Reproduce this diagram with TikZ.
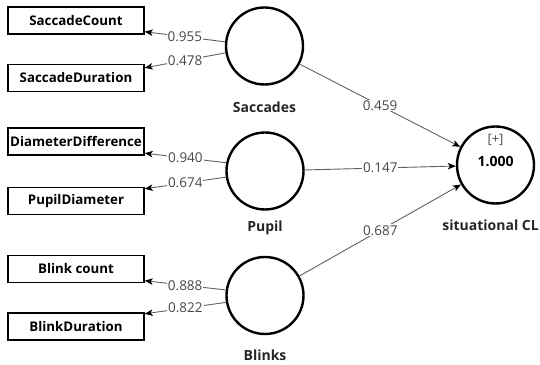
\documentclass[tikz,border=0pt]{standalone}
\usepackage{fontspec}
\setmainfont{Open Sans}
\usetikzlibrary{arrows.meta,calc}
\tikzset{
  ind/.style={draw=black, line width=1.4pt, minimum width=136pt, minimum height=27pt, inner sep=0pt, font=\fontsize{13.3}{15}\selectfont\bfseries},
  lv/.style={circle, draw=black, line width=2.4pt, minimum size=77pt, inner sep=0pt},
  lvlabel/.style={font=\fontsize{14}{16}\selectfont\bfseries, text=black!85},
  conn/.style={draw=black!62, line width=0.9pt, -{Stealth[length=8pt,width=6.5pt,inset=2pt,color=black]}},
  wt/.style={fill=white, inner sep=1pt, text=black!72, font=\fontsize{13.5}{15}\selectfont, pos=0.5}
}
\begin{document}
\begin{tikzpicture}[x=1pt,y=1pt]
\useasboundingbox (0,0) rectangle (540,364);
% indicator boxes
\node[ind] (sc) at (76,343.5) {SaccadeCount};
\node[ind] (sd) at (76,286) {SaccadeDuration};
\node[ind] (dd) at (76,222.5) {DiameterDifference};
\node[ind] (pd) at (76,163) {PupilDiameter};
\node[ind] (bc) at (76,95) {Blink count};
\node[ind] (bd) at (76,37.5) {BlinkDuration};
% latent variables
\node[lv] (sac) at (264.5,318) {};
\node[lv] (pup) at (265,193) {};
\node[lv] (bli) at (265,68.5) {};
\node[lv] (cl) at (495.5,199) {};
\node[lvlabel] (sacl) at (264.5,257) {Saccades};
\node[lvlabel] (pupl) at (265,136) {Pupil};
\node[lvlabel] (blil) at (265,9) {Blinks};
\node[lvlabel, anchor=east, inner xsep=0pt] (cll) at (539,139) {situational CL};
\node[text=black!70, font=\fontsize{13}{15}\selectfont] (clplus) at (495.5,224) {[+]};
\node[font=\fontsize{14}{16}\selectfont\bfseries] (clval) at (495.5,202) {1.000};
% outer loadings
\draw[conn] (sac.174) -- node[wt] {0.955} ($(sc.south east)+(0,3)$);
\draw[conn] (sac.190) -- node[wt] {0.478} ($(sd.north east)+(0,-4)$);
\draw[conn] (pup.168) -- node[wt] {0.940} ($(dd.south east)+(0,2.5)$);
\draw[conn] (pup.189) -- node[wt] {0.674} ($(pd.north east)+(0,-2)$);
\draw[conn] (bli.172) -- node[wt] {0.888} ($(bc.south east)+(0,2.5)$);
\draw[conn] (bli.190) -- node[wt] {0.822} ($(bd.north east)+(0,-1.5)$);
% path coefficients
\draw[conn] (sac) -- node[wt] {0.459} (cl);
\draw[conn] (pup) -- node[wt] {0.147} (cl);
\draw[conn] (bli) -- node[wt] {0.687} (cl);
\end{tikzpicture}
\end{document}
